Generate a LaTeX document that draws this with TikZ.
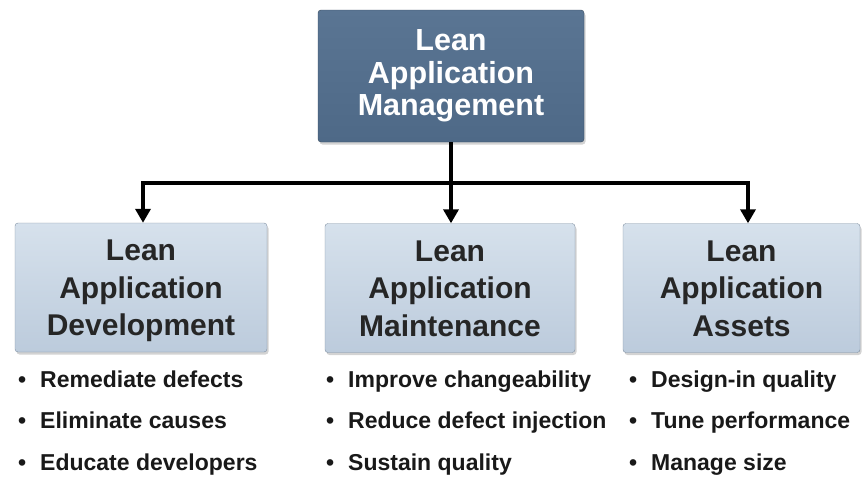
\documentclass[tikz,border=0pt]{standalone}
\usepackage{fontspec}
\setmainfont{Liberation Sans}
\usetikzlibrary{arrows.meta,shadows}

\definecolor{topblue}{HTML}{5A7593}
\definecolor{topblueb}{HTML}{4E6987}
\definecolor{paleblue}{HTML}{D6E1EC}
\definecolor{paleblueb}{HTML}{BCCBDC}
\definecolor{boxedge}{HTML}{8090A2}

\begin{document}
\begin{tikzpicture}[%
    x=1pt, y=-1pt,              % work in pixel-like units, top-down
    >={Triangle[width=15pt,length=14pt]},
    ]
% -------------------------------------------------
% Box styles
\tikzset{
  base/.style={draw, rounded corners=3pt, align=center, font=\bfseries,
    drop shadow={opacity=0.35, shadow xshift=1.5pt, shadow yshift=-2.5pt}},
  head/.style={base, draw=topblueb!70!black, top color=topblue,
    bottom color=topblueb, text=white, minimum width=266pt, minimum height=132pt,
    font=\bfseries\fontsize{30.5}{32.5}\selectfont},
  part/.style={base, draw=boxedge, top color=paleblue, bottom color=paleblueb,
    text=black!85, minimum height=129pt,
    font=\bfseries\fontsize{30}{37.5}\selectfont},
  % Connector lines and bullet items
  flow/.style={draw, line width=4pt},
  item/.style={anchor=base west, inner sep=0pt, text=black!90,
    font=\bfseries\fontsize{23}{26}\selectfont},
}
\newcommand{\itm}[1]{\makebox[22pt][l]{\textbullet}#1}
% even out the three lines so every box centres the same way
\newcommand{\boxlines}[3]{\rule{0pt}{28pt}#1\\#2\\#3\vphantom{p}}
\useasboundingbox (0,0) rectangle (863,477);
% -------------------------------------------------
% Start by placing the boxes
\node [head] (lam) at (451,76) {Lean\\Application\\Management};
\node [part, minimum width=252pt] (dev) at (141,287.5)
  {\boxlines{Lean}{Application}{Development}};
\node [part, minimum width=250pt] (mnt) at (450,288)
  {\boxlines{Lean}{Application}{Maintenance}};
\node [part, minimum width=237pt] (ast) at (741.5,288)
  {\boxlines{Lean}{Application}{Assets}};

% Tree connectors
\draw [flow] (lam.south) -- ++(0,41) coordinate (bus);
\draw [flow, ->] (bus) -| ([xshift=2pt]dev.north);
\draw [flow, ->] (bus) -- (bus |- mnt.north);
\draw [flow, ->] (bus) -| ([xshift=6.5pt]ast.north);

% Bullet lists under each box
\foreach \txt [count=\i] in {Remediate defects, Eliminate causes,
    Educate developers}
  \node [item] (dev-\i) at (18,345.5+41.5*\i) {\itm{\txt}};
\foreach \txt [count=\i] in {Improve changeability, Reduce defect injection,
    Sustain quality}
  \node [item] (mnt-\i) at (326,345.5+41.5*\i) {\itm{\txt}};
\foreach \txt [count=\i] in {Design-in quality, Tune performance,
    Manage size}
  \node [item] (ast-\i) at (629,345.5+41.5*\i) {\itm{\txt}};
% -------------------------------------------------
\end{tikzpicture}
\end{document}
